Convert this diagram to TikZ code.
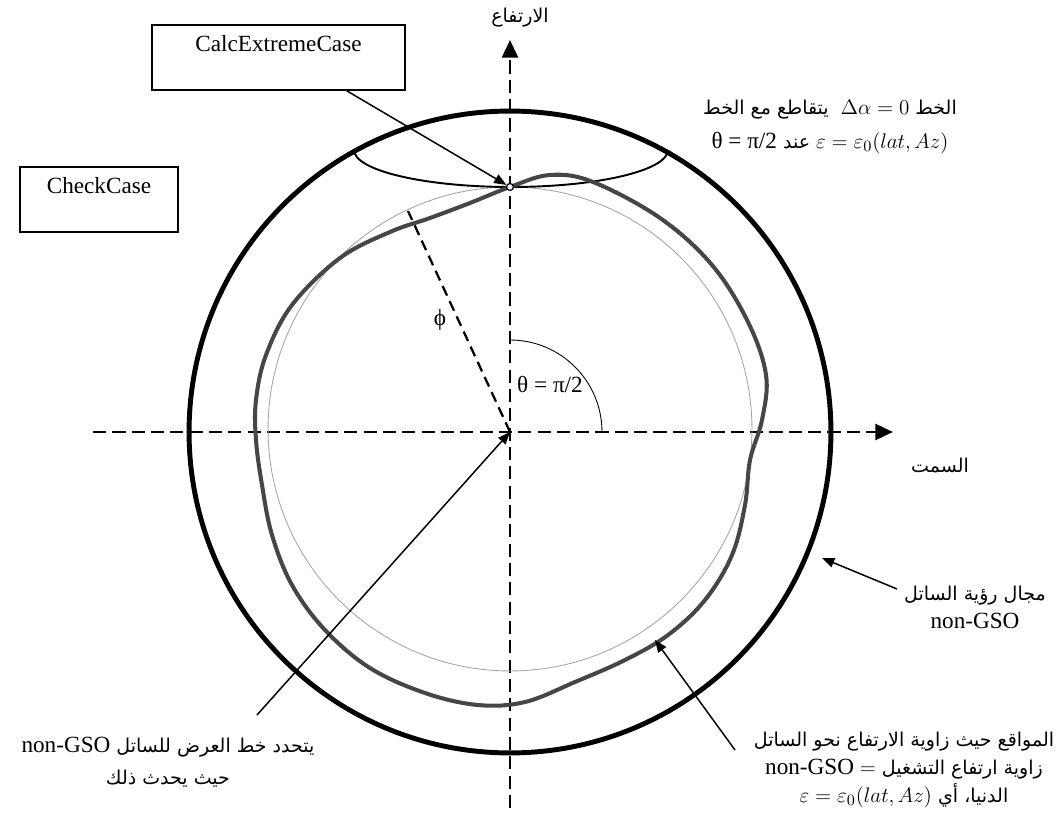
\documentclass[tikz,border=0pt]{standalone}
\usepackage{fontspec}
\setmainfont{Liberation Serif}
\newfontfamily\arabicfont[Script=Arabic,Scale=0.82]{DejaVu Sans}
\TeXXeTstate=1
\usetikzlibrary{arrows.meta}
\newcommand{\artxt}[1]{{\arabicfont\beginR #1\endR}}
\newcommand{\lat}[1]{\beginL{\rmfamily #1}\endL{}}
\tikzset{
  axisline/.style={line width=1.6pt, dash pattern=on 7.5pt off 3.5pt, -{Triangle[length=10pt,width=9pt]}},
  fovcircle/.style={line width=2.8pt},
  refcircle/.style={line width=0.5pt, gray!70},
  contour/.style={line width=2.3pt, gray!55!black},
  chord/.style={line width=1.1pt},
  philine/.style={line width=1.3pt, dash pattern=on 6pt off 3.5pt},
  callout/.style={line width=0.85pt, -{Triangle[length=7pt,width=5.5pt]}},
  casebox/.style={draw, line width=0.85pt, align=center, minimum height=1.3cm},
  lbl/.style={align=center, inner sep=1pt},
  crosspt/.style={circle, draw, line width=0.7pt, fill=blue!4, inner sep=0pt, minimum size=0.14cm}
}

\begin{document}
\begin{tikzpicture}[x=0.02cm, y=-0.02cm, font=\fontsize{13.2}{16}\selectfont]
  \useasboundingbox (0,0) rectangle (1061,820);
  % axes
  \coordinate (O) at (510,432);
  \coordinate (ybot) at (510,808);
  \coordinate (ytop) at (510,40);
  \coordinate (xleft) at (93,432);
  \coordinate (xright) at (893,432);
  \draw[axisline] (ybot) -- (ytop);
  \draw[axisline] (xleft) -- (xright);
  \node[lbl] (elevlbl) at (520,18) {\artxt{الارتفاع}};
  \node[lbl] (azlbl) at (940,466) {\artxt{السمت}};
  % field of view and reference circle
  \draw[fovcircle] (O) circle[radius=6.42cm];
  \draw[refcircle] (510,429) circle[radius=4.84cm];
  \coordinate (chordL) at (354,150);
  \draw[chord] (chordL) arc[start angle=180, end angle=360, x radius=3.14cm, y radius=0.74cm];
  % contour of minimum elevation
  \draw[contour] plot[smooth cycle, tension=0.6] coordinates {
    (510,187) (550,175) (593,182) (660,218) (712,265) (748,322) (766,375)
    (762,420) (750,460) (745,505) (732,555) (705,600) (668,635) (625,660)
    (575,682) (525,702) (478,705) (425,693) (370,668) (325,630) (292,585)
    (272,535) (262,485) (256,440) (256,400) (266,355) (292,305) (340,258)
    (390,232) (430,218) (470,203)};
  % angles
  \coordinate (phiend) at (408,211);
  \draw[philine] (O) -- (phiend);
  \node[lbl] (philbl) at (440,320) {ϕ};
  \coordinate (thetatop) at (510,340);
  \draw[line width=0.5pt] (thetatop) arc[start angle=90, end angle=0, radius=1.84cm];
  \node[lbl] (thetalbl) at (550,385) {θ = π/2};
  % boxes
  \node[casebox, minimum width=5.06cm] (calc) at (278.5,57.5) {CalcExtremeCase\\\mbox{}};
  \node[casebox, minimum width=3.16cm] (check) at (99,199.5) {CheckCase\\\mbox{}};
  \node[crosspt] (P) at (510,187) {};
  \draw[callout] (calc.-26) -- (P);
  % labels
  \node[lbl] (interlbl) at (830,127) {\artxt{الخط \lat{$\Delta\alpha = 0$}\ \ يتقاطع مع الخط}\\[3pt]
    \artxt{\lat{$\varepsilon = \varepsilon_0(lat, Az)$} عند \lat{θ = π/2}}};
  \node[lbl] (fovlbl) at (975,607) {\artxt{مجال رؤية الساتل}\\non-GSO};
  \coordinate (fovtail) at (897,589);
  \coordinate (fovpt) at (822,558);
  \draw[callout] (fovtail) -- (fovpt);
  \node[lbl] (minlbl) at (904,770) {\artxt{المواقع حيث زاوية الارتفاع نحو الساتل}\\
    \artxt{زاوية ارتفاع التشغيل \lat{non-GSO $=$}}\\
    \artxt{الدنيا، أي \lat{$\varepsilon = \varepsilon_0(lat, Az)$}}};
  \coordinate (mintail) at (735,750);
  \coordinate (minpt) at (655,640);
  \draw[callout] (mintail) -- (minpt);
  \node[lbl] (latlbl) at (168,762) {\artxt{يتحدد خط العرض للساتل \lat{non-GSO}}\\[2pt]
    \artxt{حيث يحدث ذلك}};
  \coordinate (lattail) at (257,715);
  \draw[callout] (lattail) -- (O);
\end{tikzpicture}
\end{document}
